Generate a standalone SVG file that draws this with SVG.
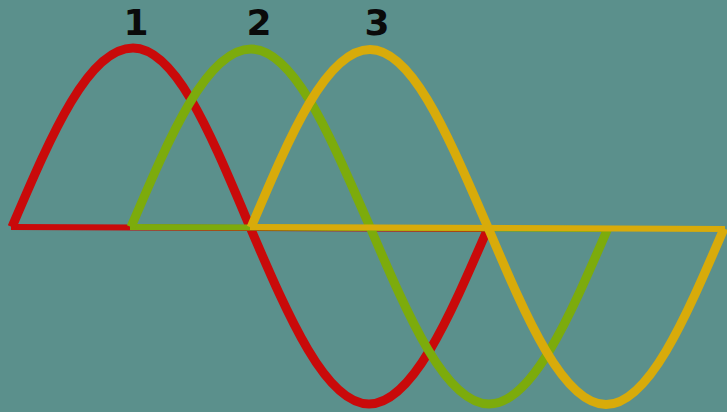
<svg xmlns="http://www.w3.org/2000/svg" width="727" height="412" viewBox="0 0 727 412">
<style>
.wave{fill:none;stroke-width:9;stroke-linejoin:miter;stroke-linecap:butt}
.base{stroke-width:6;stroke-linecap:square}
.lbl{font-family:"DejaVu Sans",sans-serif;font-weight:bold;font-size:36px;fill:#0a0a0a;text-anchor:middle}
</style>
<rect width="727" height="412" fill="#5b908c"/>
<g id="connectors">
<g id="wave1" stroke="#c90a0a">
<line class="base" x1="14" y1="227" x2="487" y2="229"/>
<path class="wave" d="M12,227 c38.8,-90.7 76,-179 121,-179 c43.1,0 78.2,87.3 117,179 c38.8,90.7 76,177 119,177 c43.1,0 80.2,-86.3 119,-176"/>
</g>
<g id="wave2" stroke="#7cab0c">
<line class="base" x1="133" y1="227" x2="606" y2="229"/>
<path class="wave" d="M131,227 c38.8,-90.7 76,-178 120,-178 c43.1,0 79.2,87.3 119,178 c38.8,90.7 76,177 119,177 c43.1,0 80.2,-86.3 119,-176"/>
</g>
<g id="wave3" stroke="#d8ab0a">
<line class="base" x1="253" y1="227" x2="722" y2="229"/>
<path class="wave" d="M251,227.5 c38.5,-90.7 75.3,-178 119,-178 c42.7,0 78.5,87.3 118,178 c38.5,90.7 75.3,177 118,177 c42.7,0 79.5,-86.3 118,-176"/>
</g>
</g>
<g id="label1"><text class="lbl" x="136" y="35">1</text></g>
<g id="label2"><text class="lbl" x="259" y="35">2</text></g>
<g id="label3"><text class="lbl" x="377" y="35">3</text></g>
</svg>
